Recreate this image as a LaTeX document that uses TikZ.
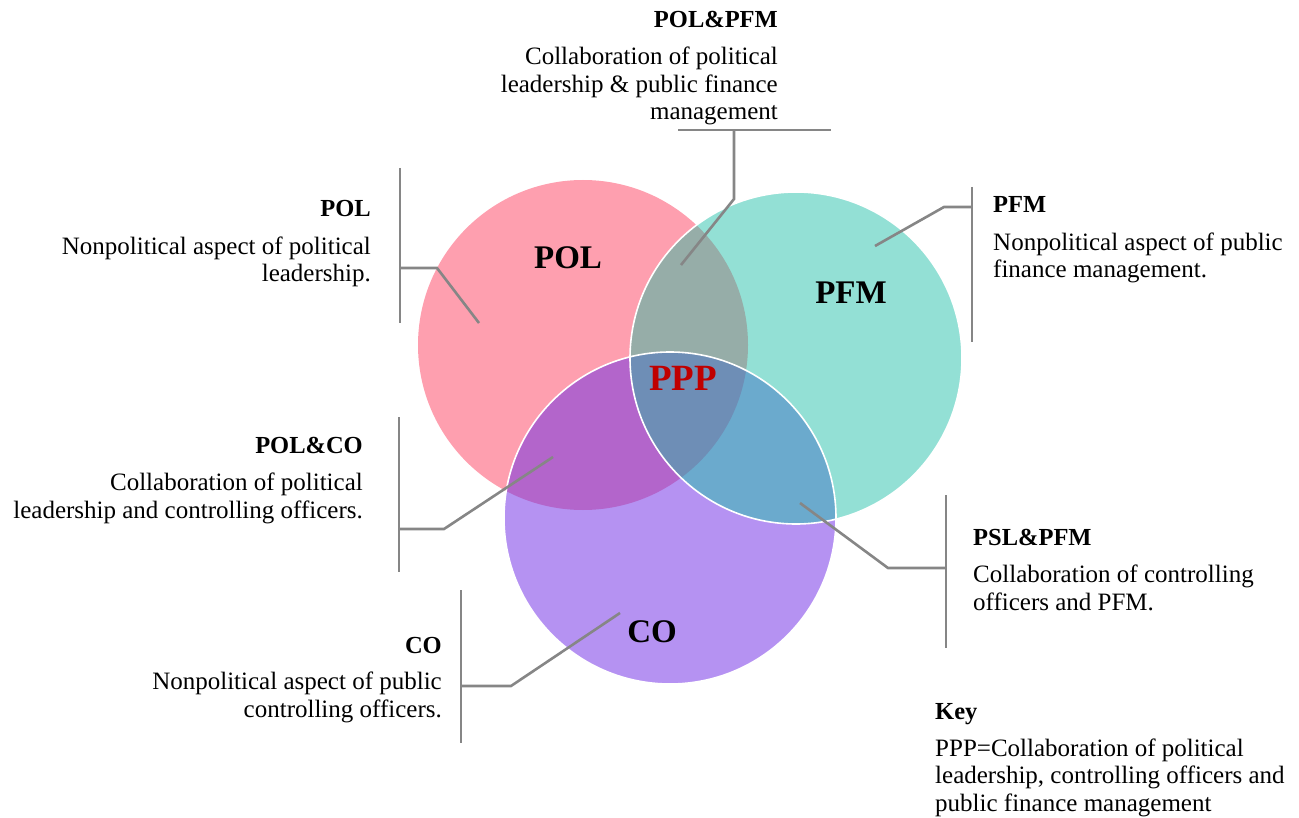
\documentclass[tikz,border=0pt]{standalone}
\usepackage{fontspec}
\setmainfont{Liberation Serif}
\definecolor{cpink}{HTML}{FE9FAF}
\definecolor{cteal}{HTML}{93E0D5}
\definecolor{cpurp}{HTML}{B592F2}
\definecolor{cpt}{HTML}{96ADA8}
\definecolor{cpc}{HTML}{B365CB}
\definecolor{ctc}{HTML}{6BAACD}
\definecolor{cptc}{HTML}{6E8EB6}
\definecolor{cred}{HTML}{C00000}
\definecolor{lgray}{HTML}{868686}
\tikzset{
  lead/.style={draw=lgray, line width=2.6pt},
  head/.style={font=\fontsize{24.5}{27.5}\selectfont\bfseries, inner sep=0pt},
  desc/.style={font=\fontsize{25}{27.5}\selectfont, inner sep=0pt},
  big/.style={font=\fontsize{33}{36}\selectfont\bfseries, inner sep=0pt},
}
\begin{document}
\begin{tikzpicture}[x=1pt,y=-1pt]
\useasboundingbox (0,0) rectangle (1299,818);
% circles
\def\polc{(583,345) circle (165)}
\def\pfmc{(796,358) circle (166)}
\def\coc{(670,518) circle (166)}
\fill[cpink] \polc;
\fill[cteal] \pfmc;
\fill[cpurp] \coc;
\begin{scope}\clip \polc; \fill[cpt] \pfmc; \fill[cpc] \coc; \end{scope}
\begin{scope}\clip \pfmc; \fill[ctc] \coc; \end{scope}
\begin{scope}\clip \polc; \clip \pfmc; \fill[cptc] \coc; \end{scope}
\draw[white, line width=1.6pt] \pfmc;
\draw[white, line width=1.6pt] \coc;
% circle labels
\node[big] (lpol) at (568,258) {POL};
\node[big] (lpfm) at (851,293) {PFM};
\node[big] (lco) at (652,632) {CO};
\node[big, text=cred, font=\fontsize{37}{40}\selectfont\bfseries] (lppp) at (683,378) {PPP};
% POL&PFM
\node[head, anchor=base east] (h1) at (778,28) {POL\&PFM};
\node[desc, anchor=base east, align=right] (d1) at (778,120) {Collaboration of political\\leadership \& public finance\\management};
\coordinate (a1) at (678,130); \coordinate (b1) at (831,130);
\coordinate (v1) at (734,130); \coordinate (k1) at (734,199); \coordinate (e1) at (681,265);
\draw[lead] (a1) -- (b1);
\draw[lead] (v1) -- (k1) -- (e1);
% POL
\node[head, anchor=base east] (h2) at (371,217) {POL};
\node[desc, anchor=base east, align=right] (d2) at (371,282) {Nonpolitical aspect of political\\leadership.};
\coordinate (a2) at (400,168); \coordinate (b2) at (400,323);
\coordinate (v2) at (400,268); \coordinate (k2) at (437,268); \coordinate (e2) at (479,323);
\draw[lead] (a2) -- (b2);
\draw[lead] (v2) -- (k2) -- (e2);
% PFM
\node[head, anchor=base west] (h3) at (993,213) {PFM};
\node[desc, anchor=base west, align=left] (d3) at (993,278) {Nonpolitical aspect of public\\finance management.};
\coordinate (a3) at (972,187); \coordinate (b3) at (972,342);
\coordinate (v3) at (972,207); \coordinate (k3) at (944,207); \coordinate (e3) at (875,246);
\draw[lead] (a3) -- (b3);
\draw[lead] (v3) -- (k3) -- (e3);
% POL&CO
\node[head, anchor=base east] (h4) at (363,453) {POL\&CO};
\node[desc, anchor=base east, align=right] (d4) at (363,518) {Collaboration of political\\leadership and controlling officers.};
\coordinate (a4) at (399,417); \coordinate (b4) at (399,572);
\coordinate (v4) at (399,529); \coordinate (k4) at (444,529); \coordinate (e4) at (553,457);
\draw[lead] (a4) -- (b4);
\draw[lead] (v4) -- (k4) -- (e4);
% PSL&PFM
\node[head, anchor=base west] (h5) at (973,545) {PSL\&PFM};
\node[desc, anchor=base west, align=left] (d5) at (973,610) {Collaboration of controlling\\officers and PFM.};
\coordinate (a5) at (946,495); \coordinate (b5) at (946,648);
\coordinate (v5) at (946,568); \coordinate (k5) at (888,568); \coordinate (e5) at (800,503);
\draw[lead] (a5) -- (b5);
\draw[lead] (v5) -- (k5) -- (e5);
% CO
\node[head, anchor=base east] (h6) at (442,653) {CO};
\node[desc, anchor=base east, align=right] (d6) at (442,717) {Nonpolitical aspect of public\\controlling officers.};
\coordinate (a6) at (461,590); \coordinate (b6) at (461,743);
\coordinate (v6) at (461,686); \coordinate (k6) at (511,686); \coordinate (e6) at (620,613);
\draw[lead] (a6) -- (b6);
\draw[lead] (v6) -- (k6) -- (e6);
% Key
\node[head, anchor=base west] (h7) at (935,719) {Key};
\node[desc, anchor=base west, align=left] (d7) at (935,811) {PPP=Collaboration of political\\leadership, controlling officers and\\public finance management};
\end{tikzpicture}
\end{document}
